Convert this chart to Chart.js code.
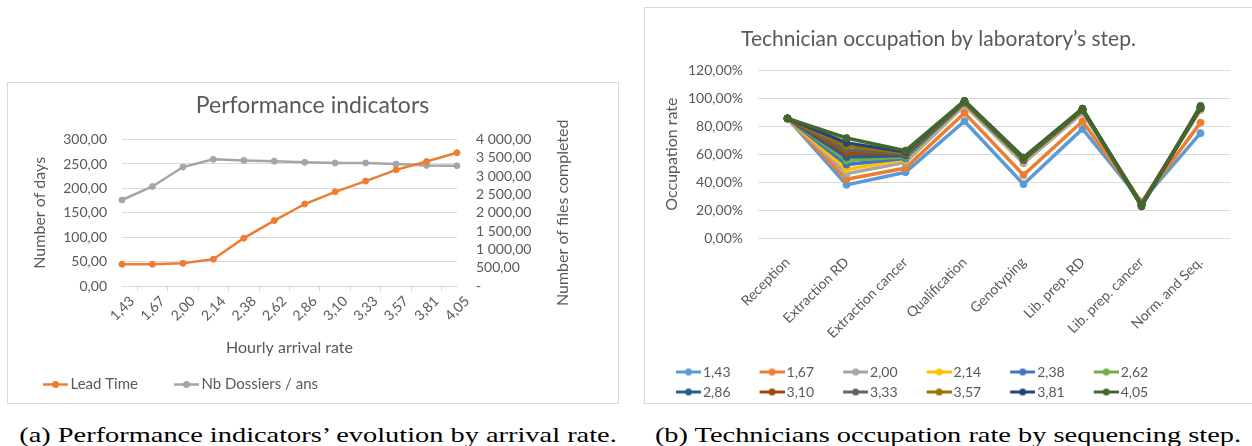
<!DOCTYPE html>
<html>
<head>
<meta charset="utf-8">
<script src="https://cdn.jsdelivr.net/npm/chart.js@4.4.0/dist/chart.umd.min.js"></script>
<style>
  body { margin: 0; width: 1252px; height: 446px; background: #fff; position: relative; overflow: hidden; }
  .frame { position: absolute; border: 1px solid #d9d9d9; box-sizing: border-box; }
  canvas { position: absolute; }
  .caption { position: absolute; font-family: 'Liberation Serif', 'Times New Roman', serif; font-size: 22px; line-height: 22px;
             color: #000; text-align: center; white-space: nowrap; transform: scaleX(1.29); }
</style>
</head>
<body>
<div class="frame" style="left:7px;top:82px;width:612px;height:322px"></div>
<canvas id="perfChart" width="611" height="320" style="left:7px;top:82px"></canvas>
<div class="frame" style="left:644px;top:7px;width:620px;height:397px"></div>
<canvas id="occupChart" width="608" height="402" style="left:644px;top:7px"></canvas>
<div class="caption" style="left:18px;width:600px;top:424px">(a) Performance indicators’ evolution by arrival rate.</div>
<div class="caption" style="left:648px;width:600px;top:424px">(b) Technicians occupation rate by sequencing step.</div>
<script>
// --- data ---
const rates = ['1,43', '1,67', '2,00', '2,14', '2,38', '2,62', '2,86', '3,10', '3,33', '3,57', '3,81', '4,05'];
const leadTime = [44.5, 44.5, 46.5, 55, 98, 134, 168, 193, 215, 238, 255, 273];
const filesPerYear = [2350, 2720, 3250, 3460, 3430, 3410, 3380, 3360, 3360, 3330, 3295, 3285];

const steps = ['Reception', 'Extraction RD', 'Extraction cancer', 'Qualification', 'Genotyping', 'Lib. prep. RD', 'Lib. prep. cancer', 'Norm. and Seq.'];
const occ143 = [85.5, 38, 47, 83.5, 38.5, 78, 26, 75];
const occ167 = [85.5, 42, 50, 89.5, 45, 83.5, 25.5, 82.5];
const occ200 = [85.5, 46, 54, 95, 53.5, 89.5, 25, 91.5];
const occ214 = [85.5, 49, 56, 96, 55, 90.5, 25, 92];
const occ238 = [85.5, 52.5, 57, 96.5, 55.5, 91, 24.5, 92.5];
const occ262 = [85.5, 55.5, 58, 97, 56, 91.5, 24.5, 92.5];
const occ286 = [85.5, 58, 59, 97, 56, 91.5, 24, 93];
const occ310 = [85.5, 60.5, 60, 97.5, 56.5, 92, 24, 93];
const occ333 = [85.5, 63, 60.5, 97.5, 57, 92, 23.5, 94.5];
const occ357 = [85.5, 65.5, 61, 97.5, 57, 92, 23.5, 93.5];
const occ381 = [85.5, 68, 61.5, 98, 57.5, 92.5, 23, 93.5];
const occ405 = [85.5, 71.5, 62.5, 98, 57.5, 92.5, 22.5, 94];
const occupation = [occ143, occ167, occ200, occ214, occ238, occ262, occ286, occ310, occ333, occ357, occ381, occ405];

const seriesColors = ['#5B9BD5', '#ED7D31', '#A5A5A5', '#FFC000', '#4472C4', '#70AD47',
                      '#255E91', '#9E480E', '#636363', '#997300', '#264478', '#43682B'];

Chart.defaults.font.family = 'Lato';
Chart.defaults.color = '#595959';

function frNumber(v) {
  const parts = v.toFixed(2).split('.');
  return parts[0].replace(/\B(?=(\d{3})+(?!\d))/g, ' ') + ',' + parts[1];
}

// excel-like legend key: short line with a dot, ending just before the label
function legendMarker(color, boxW, lineW) {
  const c = document.createElement('canvas');
  const w = boxW + 10;
  c.width = w; c.height = 9;
  const g = c.getContext('2d');
  g.strokeStyle = color; g.lineWidth = lineW;
  g.beginPath(); g.moveTo(w - 25, 4.5); g.lineTo(w, 4.5); g.stroke();
  g.fillStyle = color;
  g.beginPath(); g.arc(w - 12.5, 4.5, 3.5, 0, Math.PI * 2); g.fill();
  return c;
}

function markerLabels(boxW, lineW) {
  return function(chart) {
    return chart.data.datasets.map((ds, i) => ({
      text: ds.label,
      fillStyle: ds.borderColor,
      strokeStyle: ds.borderColor,
      lineWidth: 0,
      pointStyle: legendMarker(ds.borderColor, boxW, lineW),
      hidden: false,
      datasetIndex: i,
      fontColor: '#595959'
    }));
  };
}

// right hand axis title, reading bottom to top like the original
const sideTitle = {
  id: 'sideTitle',
  afterDraw(chart, args, opts) {
    if (!opts.text) return;
    const {ctx, chartArea} = chart;
    ctx.save();
    ctx.translate(opts.x, (chartArea.top + chartArea.bottom) / 2);
    ctx.rotate(-Math.PI / 2);
    ctx.font = '16px Lato';
    ctx.fillStyle = '#595959';
    ctx.textAlign = 'center';
    ctx.textBaseline = 'middle';
    ctx.fillText(opts.text, 0, 0);
    ctx.restore();
  }
};

new Chart(document.getElementById('perfChart'), {
  type: 'line',
  data: {
    labels: rates,
    datasets: [{
      label: 'Lead Time',
      data: leadTime,
      yAxisID: 'y',
      borderColor: '#ED7D31',
      backgroundColor: '#ED7D31',
      borderWidth: 2.5,
      pointRadius: 3,
      pointBorderWidth: 1,
      tension: 0
    }, {
      label: 'Nb Dossiers / ans',
      data: filesPerYear,
      yAxisID: 'y1',
      borderColor: '#A5A5A5',
      backgroundColor: '#A5A5A5',
      borderWidth: 2.5,
      pointRadius: 3,
      pointBorderWidth: 1,
      tension: 0
    }]
  },
  options: {
    responsive: false,
    animation: false,
    plugins: {
      title: {
        display: true,
        text: 'Performance indicators',
        font: { size: 23, weight: 'normal' },
        color: '#595959',
        padding: { top: 10, bottom: 20 }
      },
      legend: {
        position: 'bottom',
        align: 'start',
        labels: {
          usePointStyle: true,
          pointStyleWidth: 36,
          padding: 20,
          font: { size: 15 },
          generateLabels: markerLabels(36, 2.5)
        }
      },
      tooltip: { enabled: false },
      sideTitle: { x: 556, text: 'Number of files completed' }
    },
    scales: {
      x: {
        grid: { offset: true, drawOnChartArea: false, tickLength: 5, color: '#d9d9d9' },
        border: { color: '#d9d9d9' },
        ticks: { maxRotation: 45, minRotation: 45, autoSkip: false, font: { size: 14 }, padding: 2, labelOffset: 10 },
        title: { display: true, text: 'Hourly arrival rate', font: { size: 16 }, padding: 0 },
        afterFit: s => { s.height = 71; }
      },
      y: {
        position: 'left',
        min: 0,
        max: 300,
        ticks: { stepSize: 50, padding: 15, font: { size: 14 }, callback: v => frNumber(v) },
        grid: { color: '#d9d9d9', drawTicks: false },
        border: { display: false },
        title: { display: true, text: 'Number of days', font: { size: 16 }, padding: { top: 23 } },
        afterFit: s => { s.width = 115; }
      },
      y1: {
        position: 'right',
        min: 0,
        max: 4000,
        ticks: { stepSize: 500, padding: 19, autoSkip: false, font: { size: 14 },
                 callback: v => v === 0 ? '-' : frNumber(v) },
        grid: { display: false, drawTicks: false },
        border: { display: false },
        afterFit: s => { s.width = 161; }
      }
    }
  },
  plugins: [sideTitle]
});

new Chart(document.getElementById('occupChart'), {
  type: 'line',
  data: {
    labels: steps,
    datasets: occupation.map((vals, i) => ({
      label: rates[i],
      data: vals,
      borderColor: seriesColors[i],
      backgroundColor: seriesColors[i],
      borderWidth: 3.5,
      pointRadius: 3.5,
      pointBorderWidth: 1,
      tension: 0,
      order: occupation.length - i
    }))
  },
  options: {
    responsive: false,
    animation: false,
    layout: { padding: { left: 3, right: 22 } },
    plugins: {
      title: {
        display: true,
        text: 'Technician occupation by laboratory’s step.',
        font: { size: 21, weight: 'normal' },
        color: '#595959',
        padding: { top: 20, bottom: 18 }
      },
      legend: {
        position: 'bottom',
        align: 'start',
        labels: {
          usePointStyle: true,
          pointStyleWidth: 43,
          padding: 6,
          font: { size: 14 },
          generateLabels: markerLabels(43, 3)
        }
      },
      tooltip: { enabled: false }
    },
    scales: {
      x: {
        offset: true,
        grid: { display: false },
        border: { display: false },
        ticks: { maxRotation: 45, minRotation: 45, autoSkip: false, font: { size: 14 }, padding: 8 },
        afterFit: s => { s.height = 121; }
      },
      y: {
        min: 0,
        max: 120,
        ticks: { stepSize: 20, padding: 15, font: { size: 14 }, callback: v => frNumber(v) + '%' },
        grid: { color: '#d9d9d9', drawTicks: false },
        border: { display: false },
        title: { display: true, text: 'Occupation rate', font: { size: 16 }, padding: { top: 15 } },
        afterFit: s => { s.width = 111; }
      }
    }
  }
});
</script>
</body>
</html>
